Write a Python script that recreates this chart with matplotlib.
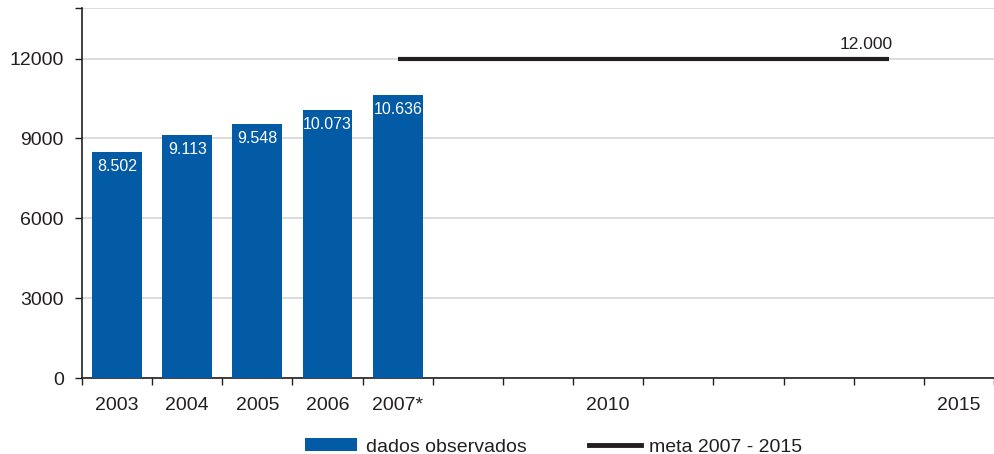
import matplotlib
matplotlib.use("Agg")
import matplotlib.pyplot as plt
from matplotlib.patches import Patch
from matplotlib.lines import Line2D

plt.rcParams['font.family'] = ['Liberation Sans', 'DejaVu Sans']

# data
years = ['2003', '2004', '2005', '2006', '2007*', '2008', '2009', '2010',
         '2011', '2012', '2013', '2014', '2015']
shown_labels = ['2003', '2004', '2005', '2006', '2007*', '', '', '2010',
                '', '', '', '', '2015']
observed = [8502, 9113, 9548, 10073, 10636]
observed_labels = ['8.502', '9.113', '9.548', '10.073', '10.636']
meta_years = ['2007*', '2014']
meta_values = [12000, 12000]
meta_label = '12.000'

blue = '#035aa5'
dark = '#231f20'

fig = plt.figure(figsize=(9.94, 4.54), dpi=100)
ax = fig.add_axes([0.0825, 0.1674, 0.9175, 0.815])

xpos = list(range(len(years)))
bars = ax.bar(xpos[:len(observed)], observed, width=0.71, color=blue, zorder=3)
for b, lab in zip(bars, observed_labels):
    ax.annotate(lab, (b.get_x() + b.get_width() / 2, b.get_height()),
                xytext=(0, -5), textcoords='offset points',
                ha='center', va='top', color='white', fontsize=11.5, zorder=4)

mx = [years.index(y) for y in meta_years]
ax.plot(mx, meta_values, color=dark, lw=3, solid_capstyle='butt', zorder=4)
ax.annotate(meta_label, (mx[-1], meta_values[-1]), xytext=(3, 5),
            textcoords='offset points', ha='right', va='bottom',
            fontsize=12.5, color=dark)

ax.set_xlim(-0.5, 12.4)
ax.set_ylim(0, 13900)
ax.set_yticks([0, 3000, 6000, 9000, 12000, 13900])
ax.set_yticklabels(['0', '3000', '6000', '9000', '12000', ''], fontsize=14, color=dark)
ax.set_xticks(xpos)
ax.set_xticklabels(shown_labels, fontsize=14, color=dark)
ax.set_xticks([i + 0.5 for i in range(-1, 13)], minor=True)
ax.tick_params(axis='x', which='major', length=0, pad=14)
ax.tick_params(axis='x', which='minor', length=5, width=1, color=dark)
ax.tick_params(axis='y', length=5, width=1, color=dark, pad=8)

ax.grid(axis='y', color='#d9d9d9', lw=1.3, zorder=0)
ax.set_axisbelow(True)
for s in ['top', 'right']:
    ax.spines[s].set_visible(False)
for s in ['left', 'bottom']:
    ax.spines[s].set_color(dark)
    ax.spines[s].set_linewidth(1.2)

handles = [Patch(facecolor=blue, edgecolor='none'),
           Line2D([0], [0], color=dark, lw=3.5)]
fig.legend(handles, ['dados observados', 'meta 2007 - 2015'],
           loc='center', bbox_to_anchor=(0.557, 1 - 447 / 454), ncol=2,
           frameon=False, fontsize=14, handlelength=2.68, handleheight=0.62,
           handletextpad=0.45, columnspacing=3.2, borderpad=0, labelcolor=dark)

fig.savefig('out.png', dpi=100)
